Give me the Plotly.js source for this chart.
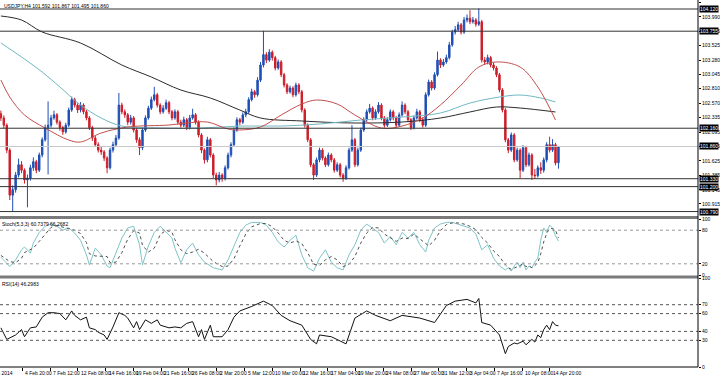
<!DOCTYPE html>
<html><head><meta charset="utf-8">
<script src="https://cdn.plot.ly/plotly-3.0.1.min.js"></script>
<style>html,body{margin:0;padding:0;background:#fff}#c{width:720px;height:376px}</style>
</head><body><div id="c"></div>
<script>
const symbolTitle = "USDJPY,H4 101.592 101.867 101.495 101.860";
const stochTitle = "Stoch(5,3,3) 60.7379 66.2682";
const rsiTitle = "RSI(14) 46.2983";

const open = [102.40,102.33,102.21,101.80,101.06,101.15,101.39,101.56,101.47,101.31,
101.34,101.51,101.61,101.47,101.72,101.97,102.17,102.21,102.33,102.38,
102.26,102.17,102.10,102.21,102.46,102.63,102.54,102.46,102.54,102.43,
102.33,102.17,102.00,101.89,101.80,101.77,101.67,101.51,101.80,101.89,
102.00,102.54,102.43,102.38,102.26,102.33,102.13,101.97,101.84,102.13,
102.33,102.49,102.63,102.71,102.54,102.43,102.49,102.58,102.43,102.33,
102.43,102.26,102.21,102.30,102.17,102.33,102.38,102.26,102.05,101.80,
101.64,101.97,101.72,101.39,101.31,101.39,101.34,101.51,101.72,101.89,
102.13,102.30,102.26,102.38,102.43,102.63,102.76,102.71,102.95,103.20,
103.37,103.28,103.41,103.32,103.15,103.25,103.04,102.87,102.76,102.82,
102.71,102.87,102.76,102.46,102.21,101.97,101.56,101.39,101.64,101.80,
101.67,101.56,101.72,101.64,101.47,101.56,101.39,101.34,101.51,101.80,
101.97,101.56,101.80,102.13,102.30,102.43,102.49,102.33,102.43,102.54,
102.33,102.21,102.30,102.43,102.33,102.21,102.38,102.54,102.43,102.30,
102.17,102.33,102.43,102.30,102.21,102.71,102.92,102.82,103.04,103.28,
103.20,103.25,103.32,103.53,103.74,103.78,103.86,103.74,103.94,103.97,
103.91,103.94,103.87,103.91,103.28,103.25,103.32,103.20,103.15,103.04,
102.79,102.46,101.97,101.80,102.05,101.64,101.80,101.47,101.84,101.56,
101.72,101.39,101.38,101.51,101.47,101.64,101.89,101.80,101.89,101.592];

const high = [102.45,102.37,102.24,101.83,101.22,101.44,101.66,101.62,101.50,101.40,
101.56,101.68,101.64,101.76,102.01,102.22,102.60,102.38,102.45,102.41,
102.29,102.20,102.25,102.50,102.68,102.66,102.57,102.59,102.57,102.46,
102.36,102.20,102.04,101.93,101.86,101.80,101.70,101.84,101.94,102.05,
102.74,102.58,102.47,102.41,102.38,102.36,102.16,102.01,102.17,102.37,
102.53,102.68,102.84,102.74,102.57,102.54,102.63,102.61,102.46,102.47,
102.46,102.30,102.35,102.33,102.38,102.48,102.41,102.29,102.08,101.83,
102.02,102.00,101.75,101.43,101.44,101.42,101.55,101.76,101.93,102.17,
102.34,102.33,102.42,102.48,102.67,102.81,102.79,103.00,103.25,103.76,
103.41,103.46,103.44,103.35,103.29,103.28,103.07,102.90,102.86,102.85,
102.91,102.90,102.79,102.49,102.24,102.00,101.59,101.68,101.84,101.83,
101.70,101.76,101.75,101.67,101.60,101.59,101.42,101.55,101.84,102.21,
102.00,101.84,102.17,102.34,102.47,102.56,102.52,102.47,102.59,102.57,
102.36,102.34,102.47,102.46,102.36,102.42,102.60,102.57,102.46,102.33,
102.37,102.48,102.46,102.34,102.75,102.96,102.95,103.08,103.42,103.31,
103.30,103.37,103.58,103.78,103.84,103.91,103.89,103.99,104.03,104.10,
103.99,103.97,104.13,103.94,103.33,103.37,103.35,103.24,103.18,103.07,
102.82,102.49,102.00,102.09,102.08,101.84,101.83,101.88,101.87,101.76,
101.75,101.49,101.55,101.60,101.68,101.93,102.02,101.98,101.92,101.867];

const low = [102.28,102.16,101.75,100.98,100.79,101.10,101.35,101.42,101.25,100.86,
101.30,101.46,101.42,101.44,101.68,101.94,101.40,102.17,102.30,102.22,
102.12,102.05,102.07,102.18,102.43,102.50,102.41,102.42,102.39,102.29,
102.13,101.95,101.85,101.76,101.72,101.62,101.42,101.48,101.76,101.85,
101.97,102.39,102.33,102.21,102.22,102.09,101.92,101.72,101.80,102.10,
102.30,102.46,102.60,102.50,102.39,102.40,102.46,102.39,102.29,102.30,
102.22,102.17,102.18,102.13,102.14,102.30,102.22,102.01,101.75,101.58,
101.60,101.68,101.34,101.22,101.27,101.28,101.30,101.48,101.68,101.86,
102.10,102.21,102.23,102.34,102.40,102.60,102.66,102.68,102.92,103.16,
103.23,103.25,103.27,103.11,103.12,103.00,102.83,102.72,102.73,102.67,
102.68,102.72,102.42,102.17,101.93,101.52,101.31,101.36,101.60,101.63,
101.52,101.53,101.60,101.43,101.44,101.35,101.28,101.31,101.48,101.77,
101.52,101.53,101.77,102.10,102.27,102.40,102.29,102.30,102.40,102.29,
102.17,102.18,102.27,102.29,102.17,102.18,102.35,102.39,102.26,102.13,
102.14,102.30,102.26,102.17,102.18,102.68,102.78,102.79,103.01,103.15,
103.17,103.22,103.29,103.50,103.70,103.75,103.70,103.71,103.90,103.87,
103.88,103.83,103.84,103.24,103.20,103.21,103.16,103.11,103.00,102.75,
102.42,101.93,101.75,101.77,101.60,101.61,101.34,101.44,101.52,101.53,
101.31,101.33,101.35,101.41,101.43,101.60,101.76,101.77,101.55,101.495];

const close = [102.33,102.21,101.80,101.06,101.15,101.39,101.56,101.47,101.31,101.34,
101.51,101.61,101.47,101.72,101.97,102.17,102.21,102.33,102.38,102.26,
102.17,102.10,102.21,102.46,102.63,102.54,102.46,102.54,102.43,102.33,
102.17,102.00,101.89,101.80,101.77,101.67,101.51,101.80,101.89,102.00,
102.54,102.43,102.38,102.26,102.33,102.13,101.97,101.84,102.13,102.33,
102.49,102.63,102.71,102.54,102.43,102.49,102.58,102.43,102.33,102.43,
102.26,102.21,102.30,102.17,102.33,102.38,102.26,102.05,101.80,101.64,
101.97,101.72,101.39,101.31,101.39,101.34,101.51,101.72,101.89,102.13,
102.30,102.26,102.38,102.43,102.63,102.76,102.71,102.95,103.20,103.37,
103.28,103.41,103.32,103.15,103.25,103.04,102.87,102.76,102.82,102.71,
102.87,102.76,102.46,102.21,101.97,101.56,101.39,101.64,101.80,101.67,
101.56,101.72,101.64,101.47,101.56,101.39,101.34,101.51,101.80,101.97,
101.56,101.80,102.13,102.30,102.43,102.49,102.33,102.43,102.54,102.33,
102.21,102.30,102.43,102.33,102.21,102.38,102.54,102.43,102.30,102.17,
102.33,102.43,102.30,102.21,102.71,102.92,102.82,103.04,103.28,103.20,
103.25,103.32,103.53,103.74,103.78,103.86,103.74,103.94,103.97,103.91,
103.94,103.87,103.91,103.28,103.25,103.32,103.20,103.15,103.04,102.79,
102.46,101.97,101.80,102.05,101.64,101.80,101.47,101.84,101.56,101.72,
101.39,101.38,101.51,101.47,101.64,101.89,101.80,101.89,101.59,101.86];

// moving averages (bar index, value)
const maLongIdx = [0,7,14,27,41,51,61,71,81,88,102,119,136,149,159,168,176,188];
const maLongVal = [104.005,103.939,103.742,103.561,103.199,103.002,102.788,102.657,102.459,102.328,102.279,102.246,102.262,102.328,102.427,102.509,102.492,102.427];
const maMidIdx = [0,7,14,20,27,34,41,54,68,81,95,108,122,136,149,159,169,176,183,188];
const maMidVal = [103.561,103.331,103.084,102.838,102.542,102.328,102.196,102.163,102.163,102.196,102.196,102.229,102.295,102.344,102.410,102.574,102.673,102.706,102.657,102.591];
const maShortIdx = [0,3,8,15,23,27,34,43,57,63,70,77,81,88,95,102,107,114,120,129,136,143,149,156,162,168,176,182,188];
const maShortVal = [102.953,102.673,102.377,102.163,101.966,101.933,102.081,102.180,102.213,102.246,102.262,102.147,102.131,102.180,102.377,102.558,102.624,102.558,102.377,102.163,102.196,102.328,102.542,102.870,103.166,103.249,103.166,102.838,102.295];

// stochastic
const stochIdx = [0,3,5,7,8,10,11,13,15,17,19,21,23,25,27,29,30,32,34,36,37,39,41,43,45,47,48,50,52,54,56,58,59,61,63,65,67,69,72,75,77,79,81,83,85,88,90,92,94,96,98,100,102,104,106,108,110,112,114,116,118,120,122,124,126,128,130,132,134,136,138,140,142,144,145,147,149,151,153,155,157,159,161,163,165,167,169,171,172,173,174,175,176,177,178,179,180,181,182,183,184,185,186,187,188,189];
const stochK = [32,15,27,45,50,39,57,76,87,91,87,80,84,75,62,36,18,48,36,16,13,41,66,84,87,54,18,52,76,87,76,66,48,22,45,57,36,23,13,9,27,52,76,89,94,94,89,76,59,50,62,71,36,13,7,30,45,23,13,9,36,54,80,91,84,76,57,69,54,76,66,76,54,41,62,84,91,94,94,91,87,84,73,45,54,30,16,9,13,7,16,23,13,23,9,16,13,23,30,62,84,76,89,84,70,60.74];
const stochD = [35,24,22,30,40,45,48,60,73,85,88,86,83,80,74,58,38,34,34,33,22,23,40,64,79,75,53,41,48,72,80,76,63,45,38,41,46,39,24,15,16,29,52,73,86,92,92,86,75,62,57,61,56,40,19,17,27,33,27,15,19,33,57,75,85,84,73,67,60,66,65,73,65,57,52,62,79,90,93,93,91,87,81,67,57,43,33,18,13,10,12,15,17,20,15,16,13,17,22,38,59,74,83,83,80,66.27];

// RSI
const rsiIdx = [0,2,5,7,8,10,12,14,16,18,20,22,24,25,27,29,30,32,33,35,36,38,40,42,43,45,46,47,49,51,53,54,57,59,61,63,65,67,68,69,71,72,75,77,79,81,85,89,92,95,98,102,105,107,108,112,117,120,124,127,132,136,142,147,151,154,158,161,162,163,166,169,171,172,174,175,177,178,180,181,182,183,184,185,186,187,188,189];
const rsiVal = [44,31,36,42,34,44,45,56,61,61,60,53,63,58,53,56,44,42,39,36,31,45,61,58,55,44,51,42,53,49,53,47,44,45,44,49,51,34,42,31,47,34,34,42,56,63,68,74,69,58,52,47,31,26,36,34,26,55,63,58,52,58,55,50,69,74,76,72,77,50,47,36,15,23,27,26,29,25,31,28,36,33,42,47,42,51,47,46.3];

// levels
const hLevels = [104.120,103.755,102.160,101.330,101.200,100.790];
const bidLevel = 101.860;
const stochLevels = [80,20];
const rsiLevels = [70,60,40,30];

// axis labels
const priceTicks = [104.230,103.990,103.755,103.525,103.280,103.045,102.810,102.570,102.335,102.095,101.865,101.625,101.385,101.145,100.915];
const stochTicks = [100,80,20,0];
const rsiTicks = [100,70,60,40,30,0];
const timeLabels = ["31 Jan 2014","4 Feb 20:00","7 Feb 12:00","12 Feb 08:00","14 Feb 16:00","19 Feb 04:00","21 Feb 16:00","26 Feb 08:00","2 Mar 20:00","5 Mar 12:00","10 Mar 00:00","12 Mar 16:00","17 Mar 04:00","19 Mar 20:00","24 Mar 08:00","27 Mar 00:00","31 Mar 12:00","3 Apr 04:00","7 Apr 16:00","10 Apr 08:00","14 Apr 20:00"];
const timeLabelIdx = [4.9,7.29,16.71,26.10,35.53,44.92,54.34,63.73,73.15,82.58,91.97,101.39,110.78,120.20,129.63,139.02,148.44,157.83,167.25,176.64,186.07];

const bars = close.map((_, i) => i);
const FONT = 'Liberation Sans, Arial, sans-serif';

const traces = [
  {type:'candlestick', x:bars, open:open, high:high, low:low, close:close, xaxis:'x', yaxis:'y',
   increasing:{line:{color:'#1f4fb4',width:1}, fillcolor:'#1f4fb4'},
   decreasing:{line:{color:'#cc1f2a',width:1}, fillcolor:'#cc1f2a'},
   whiskerwidth:0, hoverinfo:'skip'},
  {type:'scatter', mode:'lines', x:maLongIdx, y:maLongVal, line:{color:'#2b2b2b',width:1,shape:'spline'}, xaxis:'x', yaxis:'y'},
  {type:'scatter', mode:'lines', x:maMidIdx, y:maMidVal, line:{color:'#72b8c4',width:1,shape:'spline'}, xaxis:'x', yaxis:'y'},
  {type:'scatter', mode:'lines', x:maShortIdx, y:maShortVal, line:{color:'#c0504d',width:1,shape:'spline'}, xaxis:'x', yaxis:'y'},
  {type:'scatter', mode:'lines', x:stochIdx, y:stochK, line:{color:'#7fc4c8',width:1}, xaxis:'x', yaxis:'y2'},
  {type:'scatter', mode:'lines', x:stochIdx, y:stochD, line:{color:'#505050',width:1,dash:'dot'}, xaxis:'x', yaxis:'y2'},
  {type:'scatter', mode:'lines', x:rsiIdx, y:rsiVal, line:{color:'#111',width:1}, xaxis:'x', yaxis:'y3'}
];

const H = 367;
const LBL = 5;
const shapes = [];
const annotations = [];
hLevels.forEach(v => {
  shapes.push({type:'line', xref:'paper', yref:'y', x0:0, x1:1, y0:v, y1:v, line:{color:'#333',width:1}});
  annotations.push({xref:'paper', yref:'y', x:1, y:v, xanchor:'left', yanchor:'middle', xshift:1, text:v.toFixed(3),
    showarrow:false, bgcolor:'#000', font:{color:'#fff', size:LBL, family:FONT}, borderpad:0});
});
shapes.push({type:'line', xref:'paper', yref:'y', x0:0, x1:1, y0:bidLevel, y1:bidLevel, line:{color:'#c8c8c8',width:1}});
annotations.push({xref:'paper', yref:'y', x:1, y:bidLevel, xanchor:'left', yanchor:'middle', xshift:1, text:bidLevel.toFixed(3),
    showarrow:false, bgcolor:'#000', font:{color:'#fff', size:LBL, family:FONT}, borderpad:0});
stochLevels.forEach(v => shapes.push({type:'line', xref:'paper', yref:'y2', x0:0, x1:1, y0:v, y1:v, line:{color:'#999',width:1,dash:'dot'}}));
rsiLevels.forEach(v => shapes.push({type:'line', xref:'paper', yref:'y3', x0:0, x1:1, y0:v, y1:v, line:{color:'#555',width:1,dash:'dot'}}));
shapes.push({type:'line', xref:'paper', yref:'paper', x0:0, x1:1, y0:1-217.5/H, y1:1-217.5/H, line:{color:'#7a7a7a',width:3}});
shapes.push({type:'line', xref:'paper', yref:'paper', x0:0, x1:1, y0:1-277/H, y1:1-277/H, line:{color:'#7a7a7a',width:3}});
shapes.push({type:'line', xref:'paper', yref:'paper', x0:1, x1:1, y0:0, y1:1, line:{color:'#000',width:1}});
shapes.push({type:'line', xref:'paper', yref:'paper', x0:0, x1:1, y0:0, y1:0, line:{color:'#000',width:1}});

annotations.push({xref:'paper', yref:'paper', x:0.003, y:1, xanchor:'left', yanchor:'top', yshift:-1, text:symbolTitle, showarrow:false, font:{size:5, family:FONT, color:'#000'}});
annotations.push({xref:'paper', yref:'paper', x:0, y:1-219/H, xanchor:'left', yanchor:'top', text:stochTitle, showarrow:false, font:{size:5, family:FONT, color:'#000'}});
annotations.push({xref:'paper', yref:'paper', x:0, y:1-279/H, xanchor:'left', yanchor:'top', text:rsiTitle, showarrow:false, font:{size:5, family:FONT, color:'#000'}});
timeLabels.forEach((t, k) => {
  annotations.push({xref:'x', yref:'paper', x:timeLabelIdx[k], y:0, xanchor:(k===0?'right':'left'), yanchor:'top', yshift:-1, xshift:(k===0?0:1),
    text:t, showarrow:false, font:{size:5, family:FONT, color:'#000'}});
});

const yCommon = {side:'right', anchor:'x', showgrid:false, zeroline:false, ticks:'outside', ticklen:2, tickcolor:'#000',
  tickfont:{size:LBL, family:FONT, color:'#000'}, showline:false, fixedrange:true};

const layout = {
  width:720, height:376, margin:{l:0, r:22, t:0, b:9, pad:0},
  paper_bgcolor:'#fff', plot_bgcolor:'#fff', showlegend:false,
  font:{family:FONT, size:6, color:'#000'},
  xaxis:{range:[-0.3,236.3], anchor:'y3', tickvals:timeLabelIdx.slice(1), ticks:'outside', ticklen:3, tickcolor:'#000',
    showticklabels:false, showgrid:false, zeroline:false, rangeslider:{visible:false}, fixedrange:true},
  yaxis:Object.assign({}, yCommon, {domain:[1-216/H,1], range:[100.717,104.268], tickvals:priceTicks, ticktext:priceTicks.map(v=>v.toFixed(3))}),
  yaxis2:Object.assign({}, yCommon, {domain:[1-275/H,1-219/H], range:[0,100], tickvals:stochTicks, ticktext:stochTicks.map(String)}),
  yaxis3:Object.assign({}, yCommon, {domain:[0,1-278/H], range:[0,100], tickvals:rsiTicks, ticktext:rsiTicks.map(String)}),
  shapes:shapes, annotations:annotations
};

Plotly.newPlot('c', traces, layout, {staticPlot:true, displayModeBar:false});
</script></body></html>
